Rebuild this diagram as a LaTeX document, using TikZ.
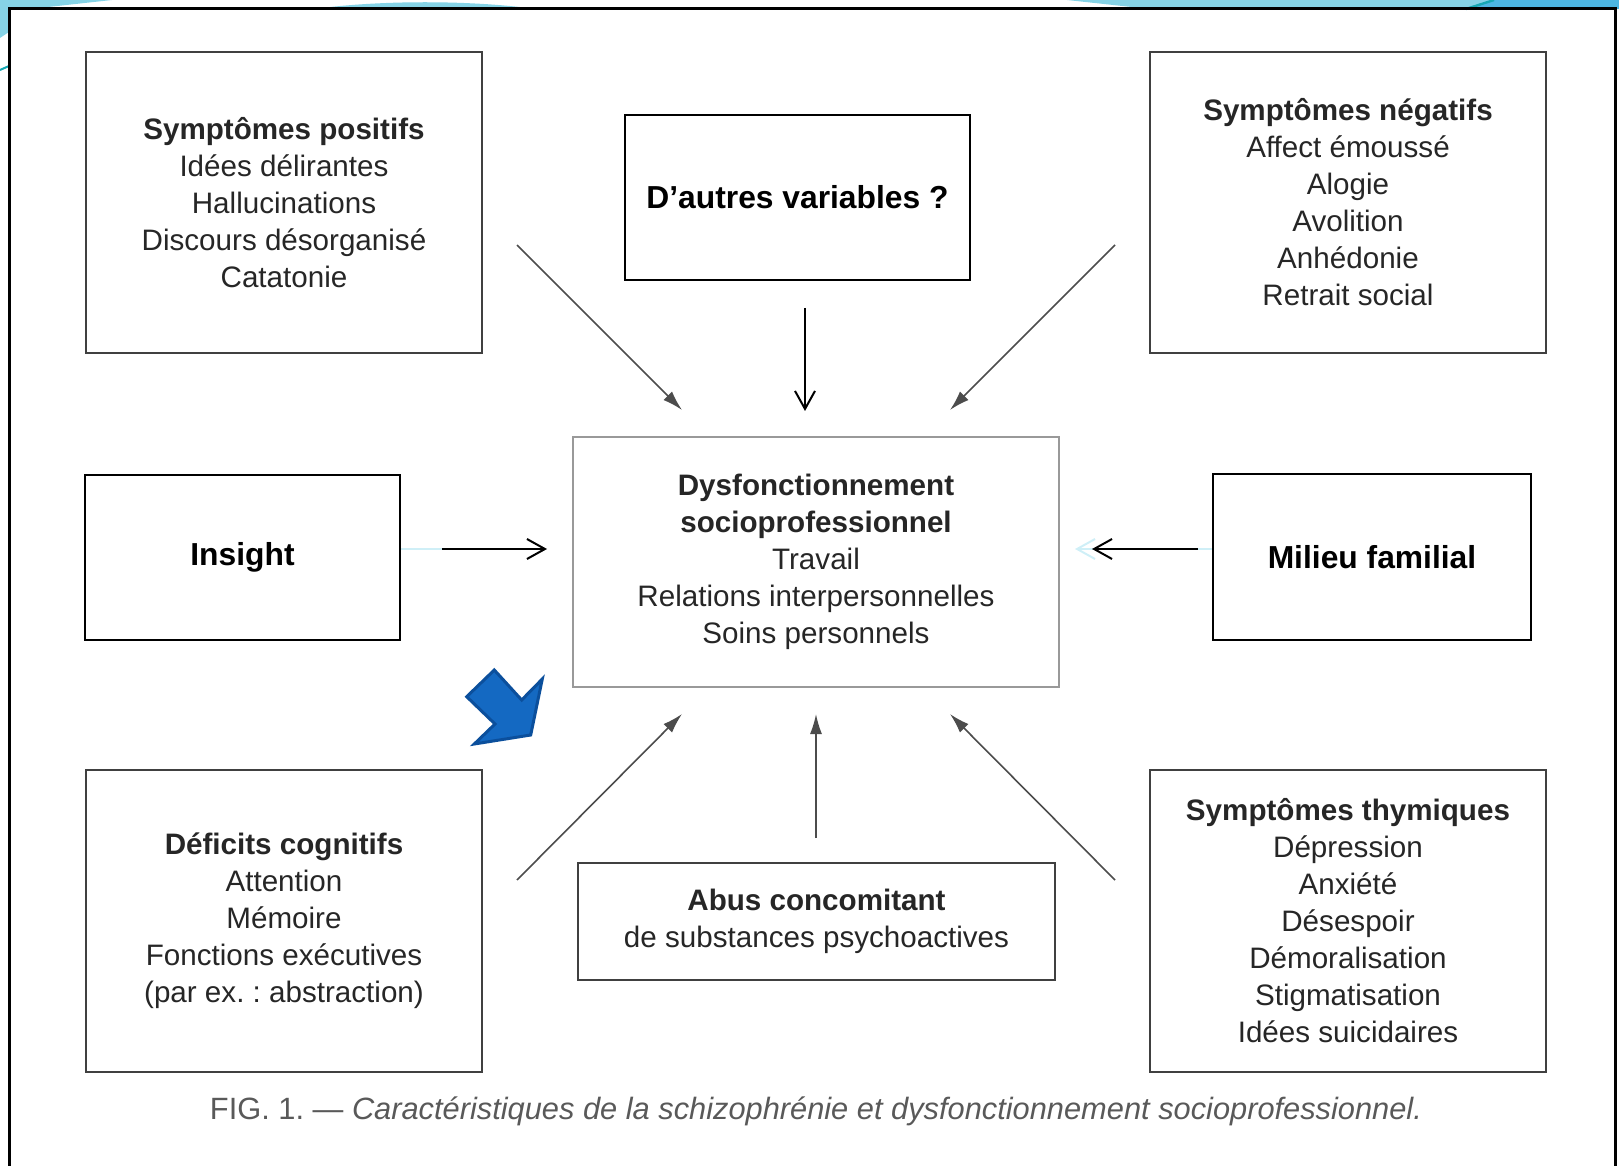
\documentclass[tikz,border=0pt]{standalone}
\usepackage{fontspec}
\setmainfont{Liberation Sans}
\usetikzlibrary{arrows.meta}
\definecolor{decocyan}{HTML}{86D3E6}
\definecolor{decoblue}{HTML}{4DB6E2}
\definecolor{decoteal}{HTML}{17A8B3}
\definecolor{ghostcyan}{HTML}{CFEFF7}
\definecolor{bluefill}{HTML}{1469C2}
\definecolor{blueedge}{HTML}{0B4F9C}
\frenchspacing

\begin{document}
\begin{tikzpicture}[x=0.5pt,y=-0.5pt,
  graybox/.style={draw=black!75, line width=1pt, minimum width=198pt, minimum height=150.5pt,
    align=center, inner sep=0pt, text=black!85, font=\fontsize{14.8}{18.5}\selectfont},
  blackbox/.style={draw=black, line width=1.3pt, align=center, inner sep=0pt,
    font=\fontsize{15.9}{19}\selectfont\bfseries},
  grayarrow/.style={draw=black!70, line width=0.8pt, -{Latex[length=10pt,width=6pt]}},
  blackarrow/.style={draw=black, line width=1pt, -{Straight Barb[length=9pt,width=10pt]}},
  ghost/.style={draw=ghostcyan, line width=1pt}]
\useasboundingbox (0,0) rectangle (1619,1166);
% Slide decoration
\fill[decocyan] (0,0) -- (112,0) -- (30,9) -- (9,9) -- (9,32) -- (0,38) -- cycle;
\fill[decocyan] (314,9) .. controls (380,0) and (470,0) .. (536,9) -- cycle;
\fill[decocyan] (1067,0) -- (1619,0) -- (1619,9) -- (1150,9) -- cycle;
\fill[decoblue] (1494,0) -- (1619,0) -- (1619,9) -- (1466,9) -- cycle;
\draw[decoteal, line width=1.2pt] (1466,9) -- (1494,0);
\draw[decoteal, line width=1pt] (0,70) -- (9,66);
% Frame
\draw[line width=1.5pt] (9,1166) -- (9,9) -- (1615,9) -- (1615,1166);
% Boxes
\node[graybox] (pos) at (284,202.5) {\textbf{Symptômes positifs}\\Idées délirantes\\Hallucinations\\Discours désorganisé\\Catatonie};
\node[blackbox, minimum width=172.5pt, minimum height=82.5pt] (autres) at (797.5,197.5) {D’autres variables ?};
\node[graybox] (neg) at (1348,202.5) {\textbf{Symptômes négatifs}\\Affect émoussé\\Alogie\\Avolition\\Anhédonie\\Retrait social};
\node[blackbox, minimum width=157.5pt, minimum height=82.5pt] (insight) at (242.5,557.5) {Insight};
\node[graybox, draw=black!40, minimum width=243pt, minimum height=125pt] (dys) at (816,562) {\textbf{Dysfonctionnement}\\\textbf{socioprofessionnel}\\Travail\\Relations interpersonnelles\\Soins personnels};
\node[blackbox, minimum width=159pt, minimum height=83pt] (milieu) at (1372,557) {Milieu familial};
\node[graybox, minimum height=151pt] (cog) at (284,921) {\textbf{Déficits cognitifs}\\Attention\\Mémoire\\Fonctions exécutives\\(par ex. : abstraction)};
\node[graybox, minimum width=238.5pt, minimum height=58.5pt] (abus) at (816.5,921.5) {\textbf{Abus concomitant}\\de substances psychoactives};
\node[graybox, minimum height=151pt] (thym) at (1348,921) {\textbf{Symptômes thymiques}\\Dépression\\Anxiété\\Désespoir\\Démoralisation\\Stigmatisation\\Idées suicidaires};
% Arrows towards the central box
\foreach \n/\xa/\ya/\xb/\yb in {1/517/245/682/410, 2/1115/245/950/410, 3/517/880/682/714, 4/816/838/816/714, 5/1115/880/950/714} {
    \coordinate (s\n) at (\xa,\ya);
    \coordinate (e\n) at (\xb,\yb);
    \draw[grayarrow] (s\n) -- (e\n);
}
\coordinate (ta) at (805,308);
\coordinate (tb) at (805,411);
\coordinate (ia) at (442,549);
\coordinate (ib) at (547,549);
\coordinate (ma) at (1198,549);
\coordinate (mb) at (1092,549);
\coordinate (mg) at (1075,549);
\draw[ghost] (insight.east |- ia) -- (ia);
\draw[ghost, -{Straight Barb[length=9pt,width=10pt]}] (milieu.west |- ma) -- (mg);
\draw[blackarrow] (ta) -- (tb);
\draw[blackarrow] (ia) -- (ib);
\draw[blackarrow] (ma) -- (mb);
% Blue pointer
\draw[fill=bluefill, draw=blueedge, line width=1.5pt, line join=miter] (494.3,670) -- (521.7,700) -- (542.3,679) -- (530.7,735) -- (474.3,744) -- (495,724) -- (466.7,696.7) -- cycle;
% Caption
\node[font=\fontsize{15.4}{18}\selectfont, text=black!65] (caption) at (816,1111) {FIG. 1. — \textit{Caractéristiques de la schizophrénie et dysfonctionnement socioprofessionnel.}};
\end{tikzpicture}
\end{document}
